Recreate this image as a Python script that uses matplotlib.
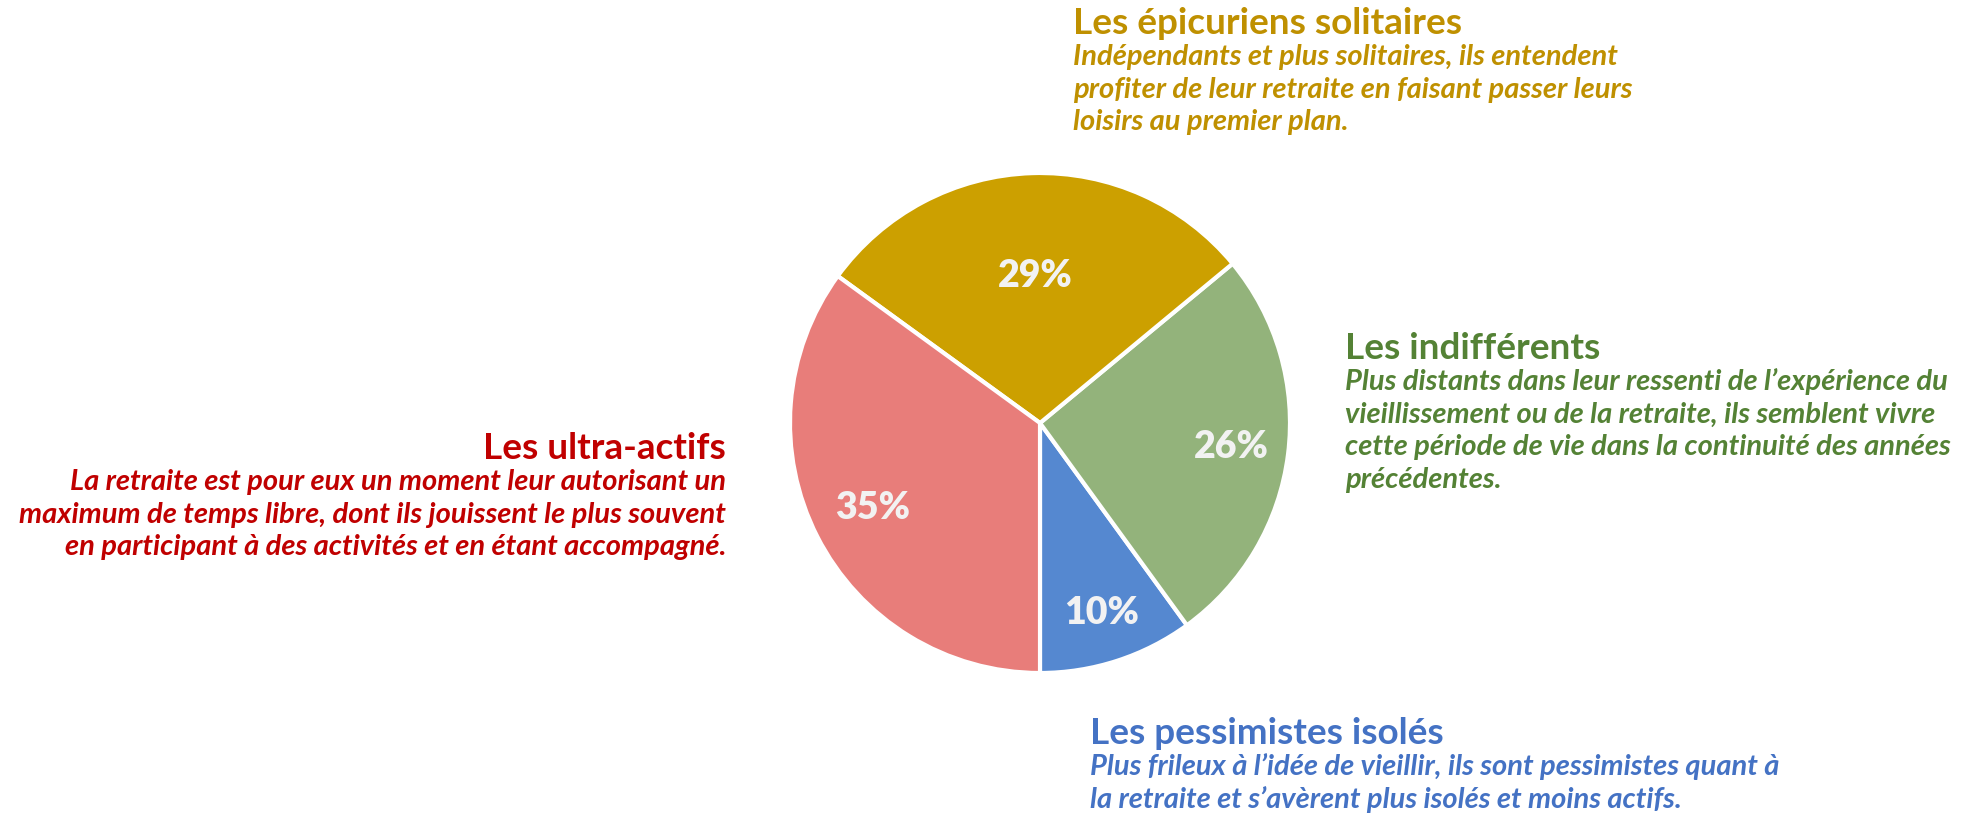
import matplotlib.pyplot as plt
import numpy as np

# profils de retraités (ordre anti-horaire depuis le bas)
profils = ['Les pessimistes isolés', 'Les indifférents',
           'Les épicuriens solitaires', 'Les ultra-actifs']
parts = [10, 26, 29, 35]
couleurs_parts = ['#5588D0', '#93B37B', '#CCA000', '#E87D7A']
couleurs_texte = ['#4472C4', '#548235', '#BF9000', '#C00000']
descriptions = [
    ["Plus frileux à l’idée de vieillir, ils sont pessimistes quant à",
     "la retraite et s’avèrent plus isolés et moins actifs."],
    ["Plus distants dans leur ressenti de l’expérience du",
     "vieillissement ou de la retraite, ils semblent vivre",
     "cette période de vie dans la continuité des années",
     "précédentes."],
    ["Indépendants et plus solitaires, ils entendent",
     "profiter de leur retraite en faisant passer leurs",
     "loisirs au premier plan."],
    ["La retraite est pour eux un moment leur autorisant un",
     "maximum de temps libre, dont ils jouissent le plus souvent",
     "en participant à des activités et en étant accompagné."],
]
dist_etiquettes = [0.80, 0.77, 0.59, 0.75]

W, H = 1969, 816
plt.rcParams['font.family'] = ['Lato', 'DejaVu Sans']
fig = plt.figure(figsize=(W / 100, H / 100), dpi=100)

# camembert : centre (1040, 423) px, rayon 250 px
cx, cy, r = 1040, 423, 250
ax = fig.add_axes([(cx - r) / W, (H - cy - r) / H, 2 * r / W, 2 * r / H])
wedges, _ = ax.pie(parts, colors=couleurs_parts, startangle=-90, counterclock=True,
                   radius=1, wedgeprops=dict(edgecolor='white', linewidth=3))
ax.set_xlim(-1, 1)
ax.set_ylim(-1, 1)
ax.set_aspect('equal')
ax.axis('off')

for w, val, d in zip(wedges, parts, dist_etiquettes):
    ang = np.deg2rad((w.theta1 + w.theta2) / 2)
    ax.text(d * np.cos(ang), d * np.sin(ang), f'{val}%', ha='center', va='center',
            fontsize=27, fontweight='heavy', color='#F2F2F2')


def bloc(x, y, titre, lignes, couleur, ha, gap=34, pas=32.6):
    fig.text(x / W, 1 - y / H, titre, ha=ha, va='center', fontsize=26.6,
             fontweight='bold', color=couleur)
    for i, ligne in enumerate(lignes):
        fig.text(x / W, 1 - (y + gap + i * pas) / H, ligne, ha=ha, va='center',
                 fontsize=21, fontweight='bold', fontstyle='italic', color=couleur)


ancrages = [(1090, 733, 'left'), (1345, 348, 'left'),
            (1073, 23, 'left'), (726, 448, 'right')]
for (x, y, ha), titre, lignes, c in zip(ancrages, profils, descriptions, couleurs_texte):
    bloc(x, y, titre, lignes, c, ha)

fig.savefig('out.png', dpi=100, facecolor='white')
